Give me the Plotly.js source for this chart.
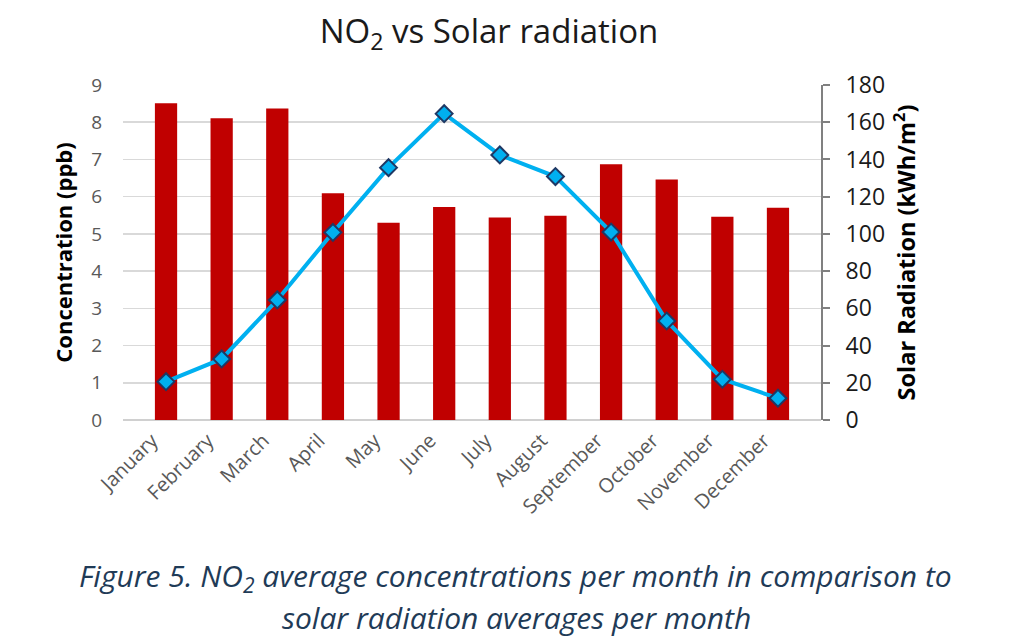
<!DOCTYPE html>
<html>
<head>
<meta charset="utf-8">
<script src="https://cdn.plot.ly/plotly-3.0.1.min.js"></script>
<style>html,body{margin:0;padding:0;background:#fff;}#chart{width:1024px;height:637px;}</style>
</head>
<body>
<div id="chart"></div>
<script>
const months = ["January","February","March","April","May","June","July","August","September","October","November","December"];
const no2Concentration = [8.51, 8.11, 8.37, 6.09, 5.30, 5.72, 5.44, 5.49, 6.87, 6.46, 5.46, 5.70];
const solarRadiation = [20.6, 32.8, 64.5, 100.8, 135.6, 164.6, 142.4, 130.8, 101.0, 53.2, 21.9, 11.7];
const leftTicks = [0,1,2,3,4,5,6,7,8,9];
const rightTicks = [0,20,40,60,80,100,120,140,160,180];

const FONT = "'Open Sans', 'Liberation Sans', sans-serif";
const CAPFONT = "'Open Sans', 'Liberation Sans', sans-serif";

const traces = [
  {
    type: 'bar', x: months, y: no2Concentration, name: 'NO2',
    marker: {color: '#c00000'}, yaxis: 'y'
  },
  {
    type: 'scatter', mode: 'lines+markers', x: months, y: solarRadiation, name: 'Solar radiation',
    yaxis: 'y2',
    line: {color: '#00b0f0', width: 4},
    marker: {symbol: 'diamond', size: 13, color: '#00b0f0', line: {color: '#1f3864', width: 2}}
  }
];

const layout = {
  width: 1024, height: 637,
  margin: {l: 123, r: 203, t: 85, b: 217},
  paper_bgcolor: '#ffffff', plot_bgcolor: '#ffffff',
  showlegend: false,
  bargap: 0.6,
  font: {family: FONT},
  title: {
    text: 'NO<sub>2</sub> vs Solar radiation',
    font: {family: FONT, size: 33, color: '#1a1a1a'},
    xref: 'container', x: 0.4775, xanchor: 'center',
    yref: 'container', y: 0.95, yanchor: 'middle'
  },
  xaxis: {
    type: 'category',
    tickangle: -45,
    tickfont: {family: FONT, size: 20, color: '#595959'},
    ticklabelstandoff: 4,
    ticklabelshift: -14,
    showgrid: false, showline: false, ticks: '', zeroline: false
  },
  yaxis: {
    range: [0, 9], tickvals: leftTicks, ticktext: leftTicks.map(String),
    showgrid: true, gridcolor: '#d9d9d9', gridwidth: 1.5,
    zeroline: true, zerolinecolor: '#d0d0d0', zerolinewidth: 2,
    showline: false, ticks: '',
    tickfont: {family: FONT, size: 19, color: '#595959'},
    ticklabelstandoff: 20,
    title: {text: 'Concentration (ppb)', font: {family: FONT, size: 22, color: '#000000', weight: 'bold'}, standoff: 12}
  },
  yaxis2: {
    range: [0, 180], tickvals: rightTicks, ticktext: rightTicks.map(String),
    overlaying: 'y', side: 'right',
    showgrid: false, zeroline: false,
    showline: true, linecolor: '#808080', linewidth: 2,
    ticks: 'outside', ticklen: 7, tickcolor: '#808080', tickwidth: 2,
    tickfont: {family: FONT, size: 23, color: '#1a1a1a'},
    ticklabelstandoff: 11,
    title: {text: 'Solar Radiation (kWh/m<sup>2</sup>)', font: {family: FONT, size: 23.5, color: '#000000', weight: 'bold'}, standoff: 14}
  },
  annotations: [
    {
      text: '<i>Figure 5. NO<sub>2</sub> average concentrations per month in comparison to</i>',
      xref: 'paper', yref: 'paper', x: (515-123)/698, y: -(577-420)/335,
      xanchor: 'center', yanchor: 'middle', showarrow: false,
      font: {family: CAPFONT, size: 30, color: '#1f3b57'}
    },
    {
      text: '<i>solar radiation averages per month</i>',
      xref: 'paper', yref: 'paper', x: (516-123)/698, y: -(617-420)/335,
      xanchor: 'center', yanchor: 'middle', showarrow: false,
      font: {family: CAPFONT, size: 30, color: '#1f3b57'}
    }
  ]
};

Plotly.newPlot('chart', traces, layout, {displayModeBar: false, staticPlot: true});
</script>
</body>
</html>
